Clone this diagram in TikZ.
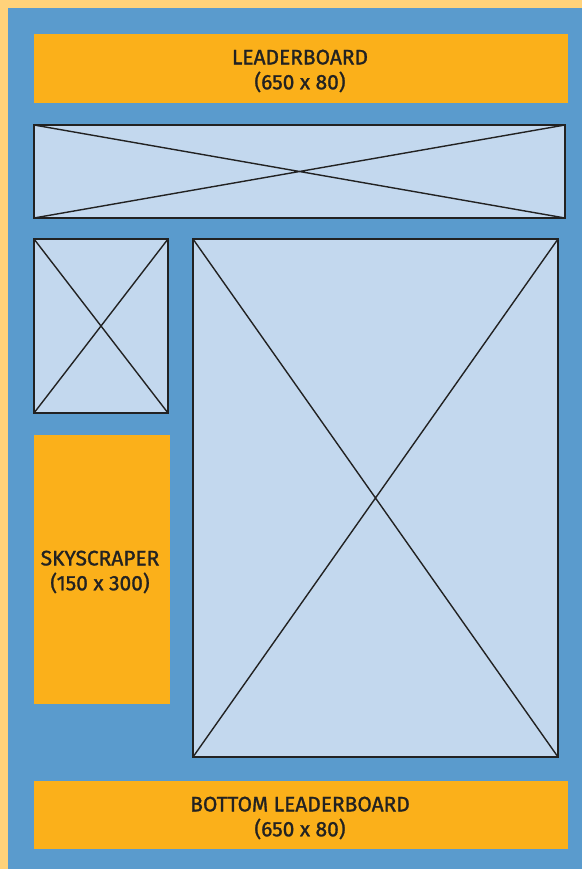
\documentclass[tikz,border=0pt]{standalone}
\usepackage{fontspec}
\setmainfont{Fira Sans}
\newfontfamily\adfont{Fira Sans}[FakeBold=1.3]
\definecolor{frame}{HTML}{FFD27A}
\definecolor{bg}{HTML}{5A9BCD}
\definecolor{ad}{HTML}{FBB01A}
\definecolor{ph}{HTML}{C3D8EE}
\definecolor{ink}{HTML}{222222}
\begin{document}
\begin{tikzpicture}[x=1bp,y=-1bp,
  adbox/.style={fill=ad},
  phbox/.style={fill=ph,draw=ink,line width=1.6bp},
  cross/.style={draw=ink,line width=1.4bp},
  adtext/.style={font=\adfont\fontsize{21}{25}\selectfont,text=ink,align=center}]
\useasboundingbox (0,0) rectangle (582,869);
\fill[frame] (0,0) rectangle (582,869);
\fill[bg] (8,8) rectangle (582,869);
% leaderboard
\fill[adbox] (34,34) rectangle (568,103);
\node[adtext] (lb) at (300,71) {LEADERBOARD\\(650 x 80)};
% banner placeholder
\coordinate (b1) at (34,125); \coordinate (b2) at (565,218);
\draw[phbox] (b1) rectangle (b2);
\draw[cross] (b1) -- (b2) (b1 |- b2) -- (b2 |- b1);
% small box
\coordinate (s1) at (34,239); \coordinate (s2) at (168,413);
\draw[phbox] (s1) rectangle (s2);
\draw[cross] (s1) -- (s2) (s1 |- s2) -- (s2 |- s1);
% skyscraper
\fill[adbox] (34,435) rectangle (170,704);
\node[adtext] (sky) at (100,572) {SKYSCRAPER\\(150 x 300)};
% big box
\coordinate (m1) at (193,239); \coordinate (m2) at (558,757);
\draw[phbox] (m1) rectangle (m2);
\draw[cross] (m1) -- (m2) (m1 |- m2) -- (m2 |- m1);
% bottom leaderboard
\fill[adbox] (34,781) rectangle (568,849);
\node[adtext] (blb) at (300,818) {BOTTOM LEADERBOARD\\(650 x 80)};
\end{tikzpicture}
\end{document}
